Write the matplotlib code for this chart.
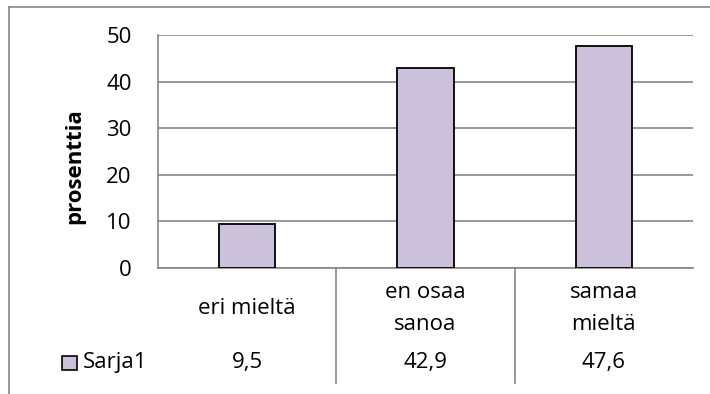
import matplotlib.pyplot as plt
from matplotlib.lines import Line2D

categories = ['eri mieltä', 'en osaa\nsanoa', 'samaa\nmieltä']
values = [9.5, 42.9, 47.6]
value_labels = ['9,5', '42,9', '47,6']
series_name = 'Sarja1'
yticks = [0, 10, 20, 30, 40, 50]

plt.rcParams['font.family'] = ['Open Sans', 'DejaVu Sans']
grid_col = '#868686'
bar_col = '#CCC1DA'
fs = 16

W, H = 710, 394
fig = plt.figure(figsize=(W / 100, H / 100), dpi=100)

def fx(px):
    return px / W

def fy(py):
    return 1 - py / H

# outer chart border (left and top visible)
fig.add_artist(Line2D([fx(8.5), fx(8.5)], [fy(6.5), 0], color=grid_col, lw=1.2))
fig.add_artist(Line2D([fx(8.5), 1], [fy(6.5), fy(6.5)], color=grid_col, lw=1.2))

left, right, top, bottom = 158, 693, 35, 268
ax = fig.add_axes([fx(left), fy(bottom), fx(right - left), (bottom - top) / H])

x = range(len(categories))
ax.bar(x, values, width=0.315, color=bar_col, edgecolor='black', linewidth=1.3, zorder=3)
ax.set_xlim(-0.5, len(categories) - 0.5)
ax.set_ylim(0, 50)
ax.set_yticks(yticks)
ax.set_yticklabels([str(t) for t in yticks], fontsize=fs)
ax.tick_params(axis='y', length=0, pad=19)
ax.tick_params(axis='x', length=0, labelbottom=False)
ax.yaxis.grid(True, color=grid_col, lw=1.2, zorder=0)
for s in ['top', 'right']:
    ax.spines[s].set_visible(False)
ax.spines['left'].set_color(grid_col)
ax.spines['left'].set_linewidth(1.2)
ax.spines['bottom'].set_color(grid_col)
ax.spines['bottom'].set_linewidth(1.2)

fig.text(fx(75), fy(166), 'prosenttia', rotation=90, fontsize=fs, fontweight='bold',
         ha='center', va='center')

# data table under the axis
tr = ax.get_xaxis_transform()
span = bottom - top
for b in [0.5, 1.5]:
    ax.plot([b, b], [0, -(383 - bottom) / span], transform=tr,
            color=grid_col, lw=1.2, clip_on=False)

mid_base, line_gap, val_base = 314, 32, 368
for i, (c, v) in enumerate(zip(categories, value_labels)):
    lines = c.split('\n')
    first = mid_base - line_gap * (len(lines) - 1) / 2
    for k, line in enumerate(lines):
        yb = first + k * line_gap
        ax.text(i, -(yb - bottom) / span, line, transform=tr, ha='center',
                va='baseline', fontsize=fs)
    ax.text(i, -(val_base - bottom) / span, v, transform=tr, ha='center',
            va='baseline', fontsize=fs)

fig.text(fx(83), fy(val_base), series_name, ha='left', va='baseline', fontsize=fs)
fig.patches.append(plt.Rectangle((fx(62.5), fy(370)), 14 / W, 14 / H,
                                 transform=fig.transFigure, facecolor=bar_col,
                                 edgecolor='black', lw=1.2))

fig.savefig('out.png', dpi=100)
